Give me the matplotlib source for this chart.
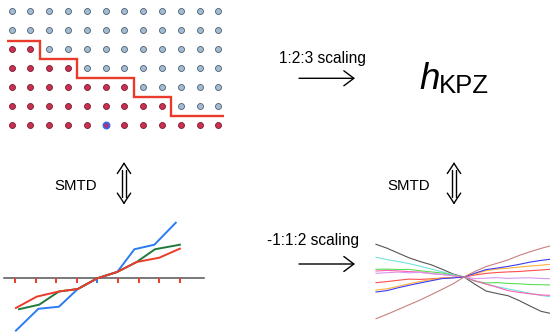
import numpy as np
import matplotlib.pyplot as plt

plt.rcParams['font.family'] = ['Liberation Sans', 'DejaVu Sans']

# height of the filled (red) region in each column of the lattice
heights = [5, 5, 4, 4, 3, 3, 3, 2, 2, 1, 1, 1]
n_rows = 7
marked = (5, 0)

# three height profiles on the line, origin at the centre tick
ticks = [-4, -3, -2, -1, 0, 1, 2, 3, 4]
blue_x = [-3.95, -2.86, -1.86, -0.95, 0, 0.97, 1.80, 2.77, 3.81]
blue_y = [-2.54, -1.48, -1.38, -0.52, 0, 0.31, 1.41, 1.63, 2.70]
green_x = [-3.80, -2.82, -1.86, -0.95, 0, 0.97, 1.91, 2.80, 4.01]
green_y = [-1.50, -1.28, -0.64, -0.52, 0, 0.31, 0.79, 1.41, 1.63]
red_x = [-3.95, -2.94, -1.86, -0.95, 0, 0.97, 1.91, 3.01, 4.01]
red_y = [-1.44, -0.89, -0.64, -0.52, 0, 0.31, 0.79, 1.00, 1.44]

# rescaled profiles crossing at the origin
t = [-88, -77, -66, -55, -44, -33, -22, -11, 0, 11, 22, 33, 44, 55, 66, 77, 86]
curves = {
    '#555555': [32.7, 28.8, 24.0, 19.2, 15.5, 12.3, 7.8, 3.0, 0, -7.3, -14.0, -16.5, -18.7, -23.5, -29.0, -34.3, -36.3],
    '#74e2dc': [19.7, 17.4, 15.5, 13.4, 10.8, 8.0, 5.2, 2.4, 0, -4.0, -7.2, -9.7, -11.9, -14.0, -16.3, -18.4, -19.7],
    '#55e055': [7.7, 7.9, 7.5, 7.6, 6.2, 5.1, 4.0, 1.8, 0, -4.2, -5.9, -5.6, -6.4, -6.8, -7.5, -7.7, -8.0],
    '#ff5fb0': [6.0, 6.6, 6.1, 5.4, 4.9, 3.6, 2.5, 1.3, 0, -3.8, -7.0, -10.2, -13.6, -15.4, -16.8, -18.0, -18.3],
    '#d898f0': [3.7, 4.3, 4.9, 4.2, 4.6, 3.3, 2.6, 1.2, 0, -1.6, -1.2, -0.6, -1.4, -1.0, -0.8, -1.5, -1.7],
    '#ff4d4d': [-5.7, -4.6, -3.3, -2.1, -2.4, -1.8, -1.0, -0.6, 0, 2.0, 3.6, 4.5, 5.1, 5.5, 6.3, 7.0, 7.7],
    '#ffb03c': [-13.0, -11.8, -9.4, -6.8, -4.6, -2.6, -1.2, -0.5, 0, 3.0, 6.3, 7.9, 8.8, 9.9, 10.9, 11.8, 12.7],
    '#3c3cf0': [-15.0, -13.6, -10.8, -8.3, -6.0, -3.8, -1.6, -0.9, 0, 3.8, 7.4, 8.9, 10.6, 12.6, 14.9, 16.6, 17.7],
    '#c88080': [-41.7, -37.3, -32.6, -27.8, -23.1, -17.8, -12.4, -6.9, 0, 5.6, 10.4, 13.7, 17.1, 21.5, 25.2, 28.6, 31.0],
}

W, H = 550, 332
fig = plt.figure(figsize=(5.5, 3.32), dpi=100)
base = fig.add_axes([0, 0, 1, 1])
base.set_xlim(0, W)
base.set_ylim(H, 0)
base.axis('off')


def panel(left, top, right, bottom, x0, xs, y0, ys):
    # axes over a pixel box; (x0, y0) is the pixel of the data origin, xs/ys pixels per unit
    ax = fig.add_axes([left / W, 1 - bottom / H, (right - left) / W, (bottom - top) / H])
    ax.set_xlim((left - x0) / xs, (right - x0) / xs)
    ax.set_ylim((y0 - bottom) / ys, (y0 - top) / ys)
    ax.axis('off')
    return ax


# lattice with the interface
ax1 = panel(0, 0, 230, 135, 11.7, 18.8, 124.7, 18.9)
for i, h in enumerate(heights):
    for r in range(n_rows):
        if (i, r) == marked:
            ax1.plot(i, r, 'o', ms=4.6, mfc='#b0307a', mec='#2f6cf0', mew=1.1)
        elif r < h:
            ax1.plot(i, r, 'o', ms=4.3, mfc='#c8314f', mec='#7a1a30', mew=0.6)
        else:
            ax1.plot(i, r, 'o', ms=4.3, mfc='#a3bcd6', mec='#4d5d6e', mew=0.6)
edges = np.r_[-0.25, np.arange(0.5, 11), 11.3]
ax1.stairs(np.array(heights) - 0.55, edges, baseline=None, color='#ea3a2a', lw=1.7)

# profiles on the line
ax2 = panel(0, 215, 210, 332, 97.3, 20.6, 278.3, 20.6)
ax2.plot([-4.53, 5.18], [0, 0], color='#555555', lw=1.1, zorder=1)
tick_colors = ['#2b7bf5' if k == 0 else '#ec3b2b' for k in ticks]
ax2.vlines(ticks, -0.25, 0, colors=tick_colors, lw=1.4, zorder=1)
ax2.plot(blue_x, blue_y, color='#2b7bf5', lw=1.4, clip_on=False)
ax2.plot(green_x, green_y, color='#1f7a3c', lw=1.4, clip_on=False)
ax2.plot(red_x, red_y, color='#ec3b2b', lw=1.4, clip_on=False)

# rescaled curves
ax3 = panel(370, 236, 550, 326, 464, 1, 277, 1)
for c, ys in curves.items():
    ax3.plot(t, ys, color=c, lw=0.8, clip_on=False)

# labels and arrows
base.text(322.5, 63.3, '1:2:3 scaling', fontsize=11.2, ha='center', va='baseline')
base.text(313, 245.5, '-1:1:2 scaling', fontsize=11.2, ha='center', va='baseline')
base.text(75.8, 190, 'SMTD', fontsize=10.8, ha='center', va='baseline')
base.text(408.3, 190, 'SMTD', fontsize=10.8, ha='center', va='baseline')
base.text(419, 89.3, 'h', fontsize=26.5, fontstyle='italic', ha='left', va='baseline')
base.text(439.3, 93.3, 'KPZ', fontsize=18.5, ha='left', va='baseline')

for y in (78.3, 264):
    base.annotate('', xy=(355, y), xytext=(299, y),
                  arrowprops=dict(arrowstyle='->,head_length=0.72,head_width=0.54',
                                  mutation_scale=10, lw=1.0, color='black',
                                  shrinkA=0, shrinkB=0))


def updown(x, top, bot):
    # double-shafted up/down arrow
    kw = dict(color='black', lw=1.0, solid_capstyle='round')
    for s in (-1, 1):
        base.plot([x + s * 6.7, x + s * 3.3, x], [top + 10.2, top + 5.2, top], **kw)
        base.plot([x + s * 6.7, x + s * 3.3, x], [bot - 10.2, bot - 5.2, bot], **kw)
        base.plot([x + s * 2.2, x + s * 2.2], [top + 6.5, bot - 6.5], **kw)


updown(124, 163.3, 203.3)
updown(454, 163.3, 203.3)

fig.savefig('out.png', dpi=100)
